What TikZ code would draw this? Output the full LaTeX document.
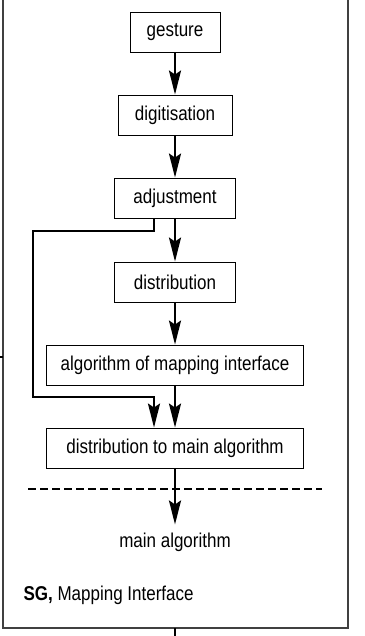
\documentclass[tikz,border=0pt]{standalone}
\usepackage{fontspec}
\setmainfont[FakeStretch=0.85]{Liberation Sans}
\usetikzlibrary{arrows.meta}
\tikzstyle{stage}=[draw, line width=0.9pt, minimum height=40pt,
    inner sep=0pt, text centered]
\tikzstyle{flow}=[line width=2.3pt, -{Stealth[length=24pt,width=12pt,inset=4pt]}]
\tikzstyle{frame}=[line width=1.4pt, draw=black!75]

\begin{document}
\begin{tikzpicture}[x=1pt,y=-1pt,font=\fontsize{20}{24}\selectfont]
  \useasboundingbox (0,0) rectangle (364,636);
  \node[stage,minimum width=90pt]  at (175,32) (gest) {gesture};
  \node[stage,minimum width=114pt] at (175,115) (digi) {digitisation};
  \node[stage,minimum width=121pt] at (175,198) (adj) {adjustment};
  \node[stage,minimum width=121pt] at (175,282) (distr) {distribution};
  \node[stage,minimum width=257pt] at (175,365) (alg) {algorithm of mapping interface};
  \node[stage,minimum width=257pt] at (175,448) (dmain) {distribution to main algorithm};
  \node[inner ysep=8pt] at (175,542) (ma) {main algorithm};
  \node[anchor=west] at (20,595) (sg) {\textbf{SG,} Mapping Interface};

  \draw[flow] (gest) -- (digi);
  \draw[flow] (digi) -- (adj);
  \draw[flow] (adj) -- (distr);
  \draw[flow] (distr) -- (alg);
  \draw[flow] (alg) -- (dmain);
  \draw[flow] (dmain) -- (ma);

  % bypass round the mapping stage
  \coordinate (bendA) at (33,231);
  \coordinate (bendB) at (33,397);
  \draw[flow] ([xshift=-21pt]adj.south) |- (bendA) -- (bendB)
     -| ([xshift=-21pt]dmain.north);

  \draw[line width=2pt, dash pattern=on 8pt off 4pt] (28,489) -- (322,489);

  % outer frame and its stubs
  \draw[frame] (3,-2) -- (3,628) -- (348,628) -- (348,-2);
  \coordinate (inL) at (0,357);
  \coordinate (outB) at (175,636);
  \draw[line width=1.2pt] (inL) -- (3,357);
  \draw[line width=1.4pt] (175,628) -- (outB);
\end{tikzpicture}
\end{document}
